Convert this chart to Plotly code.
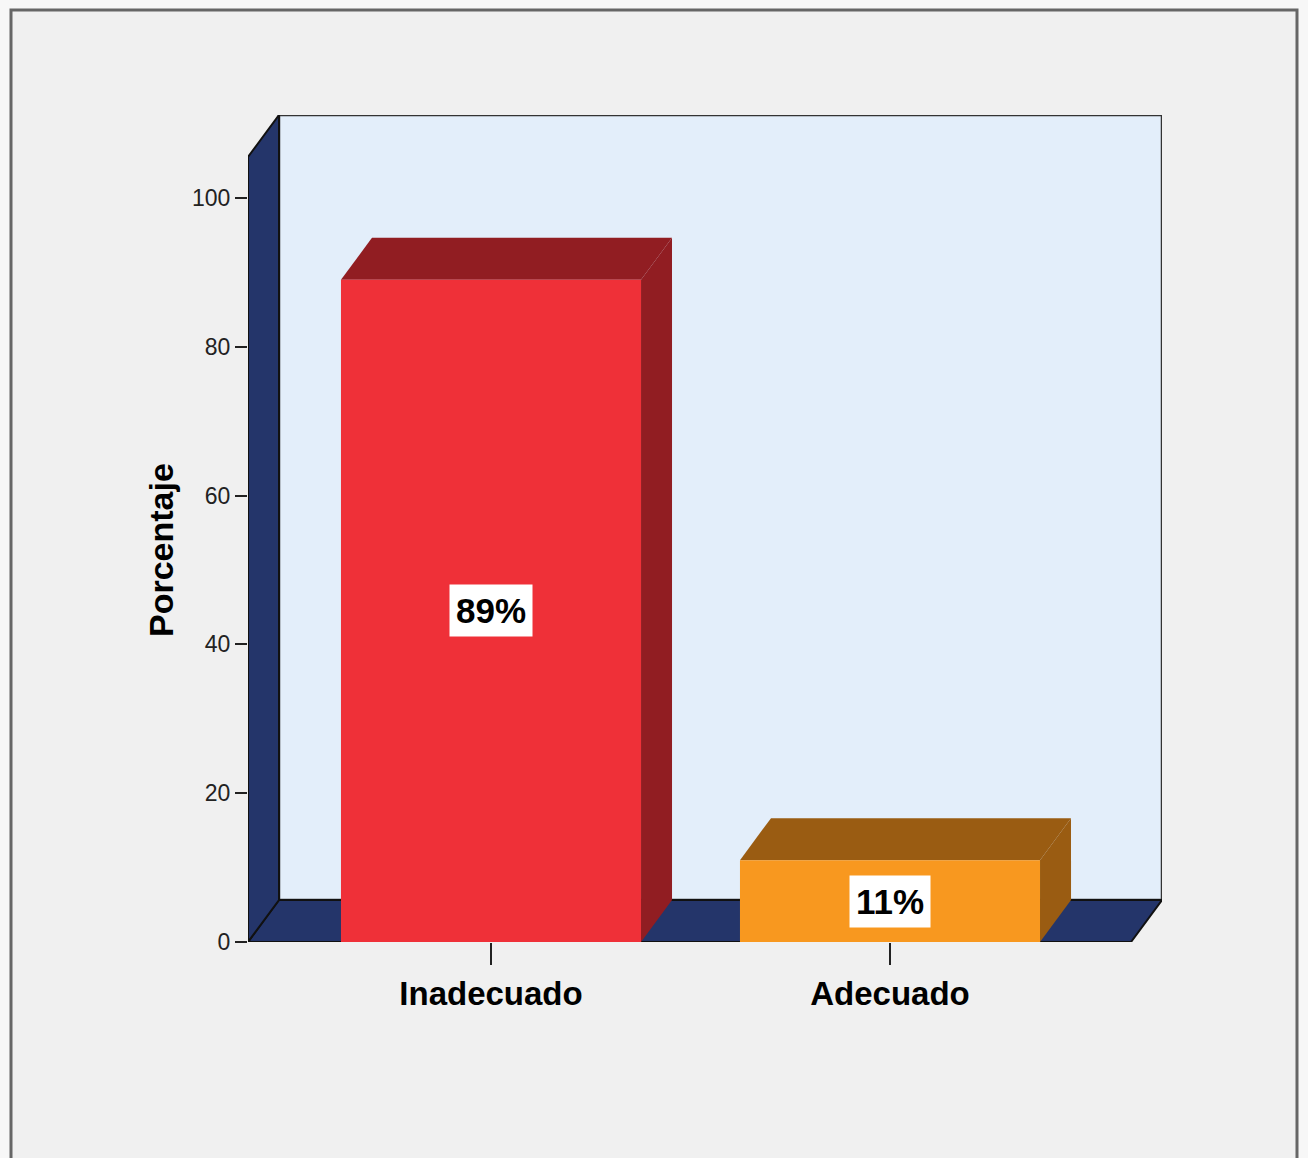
import plotly.graph_objects as go

# ---- data ----
categories = ["Inadecuado", "Adecuado"]
percentages = [89, 11]
value_labels = ["89%", "11%"]
y_ticks = [0, 20, 40, 60, 80, 100]

# ---- styling ----
front_colors = ["#ef3038", "#f8981f"]
side_colors = ["#911d22", "#9a5c12"]
navy = "#24356a"
wall = "#e3eefa"
edge = "#222222"
FONT = "Liberation Sans, Arial, sans-serif"

x_pos = list(range(len(categories)))
bar_w = 0.752      # bar width in x-units
dx = 0.0777        # depth offset (x units)
dy = 5.645         # depth offset (y units)
xmin, xmax = -0.609, 1.6817
ytop = 111.16


def poly(pts):
    return "M " + " L ".join(f"{x},{y}" for x, y in pts) + " Z"


shapes = []
# outer frame
shapes.append(dict(type="rect", xref="paper", yref="paper",
                   x0=-0.2593, x1=1.1477, y0=-0.30, y1=1.1270,
                   fillcolor="#f0f0f0", line=dict(color="#666666", width=3),
                   layer="below"))
# back wall
shapes.append(dict(type="path", xref="x", yref="y",
                   path=poly([(xmin + dx, dy), (xmax, dy), (xmax, ytop), (xmin + dx, ytop)]),
                   fillcolor=wall, line=dict(color="#333333", width=2.5), layer="below"))
# floor
shapes.append(dict(type="path", xref="x", yref="y",
                   path=poly([(xmin, 0), (xmax - dx, 0), (xmax, dy), (xmin + dx, dy)]),
                   fillcolor=navy, line=dict(color="#111111", width=2), layer="below"))
# left wall
shapes.append(dict(type="path", xref="x", yref="y",
                   path=poly([(xmin, 0), (xmin, ytop - dy), (xmin + dx, ytop), (xmin + dx, dy)]),
                   fillcolor=navy, line=dict(color="#111111", width=2), layer="below"))
# bar side and top faces
for xc, v, sc in zip(x_pos, percentages, side_colors):
    xl, xr = xc - bar_w / 2, xc + bar_w / 2
    shapes.append(dict(type="path", xref="x", yref="y",
                       path=poly([(xr, 0), (xr, v), (xr + dx, v + dy), (xr + dx, dy)]),
                       fillcolor=sc, line=dict(width=0), layer="below"))
    shapes.append(dict(type="path", xref="x", yref="y",
                       path=poly([(xl, v), (xr, v), (xr + dx, v + dy), (xl + dx, v + dy)]),
                       fillcolor=sc, line=dict(width=0), layer="below"))

fig = go.Figure()
fig.add_trace(go.Bar(
    x=x_pos, y=percentages, width=bar_w,
    marker=dict(color=front_colors, line=dict(width=0)),
    hoverinfo="skip", showlegend=False,
))

annotations = []
for xc, v, t in zip(x_pos, percentages, value_labels):
    annotations.append(dict(x=xc, y=v / 2, xref="x", yref="y", text=f"<b>{t}</b>",
                            showarrow=False, bgcolor="white", borderpad=6,
                            font=dict(family=FONT, size=35, color="black")))
annotations.append(dict(x=(140 - 248) / 914, y=(942 - 550) / 827,
                        xref="paper", yref="paper", text="<b>Porcentaje</b>",
                        textangle=-90, showarrow=False,
                        font=dict(family=FONT, size=34, color="black")))

fig.update_layout(
    width=1308, height=1158,
    margin=dict(l=248, r=146, t=115, b=216),
    paper_bgcolor="#f7f7f7", plot_bgcolor="rgba(0,0,0,0)",
    shapes=shapes, annotations=annotations,
    xaxis=dict(range=[xmin, xmax], tickvals=x_pos, ticktext=categories,
               ticks="outside", ticklen=22, tickwidth=2, tickcolor=edge,
               tickfont=dict(family=FONT, size=33, color="black", weight="bold"),
               showgrid=False, zeroline=False, showline=False, fixedrange=True),
    yaxis=dict(range=[0, ytop], tickvals=y_ticks,
               ticks="outside", ticklen=12, tickwidth=2, tickcolor=edge,
               tickfont=dict(family=FONT, size=23, color="#222222"),
               showgrid=False, zeroline=False, showline=False, fixedrange=True),
    font=dict(family=FONT),
)

fig.write_html("out.html")
